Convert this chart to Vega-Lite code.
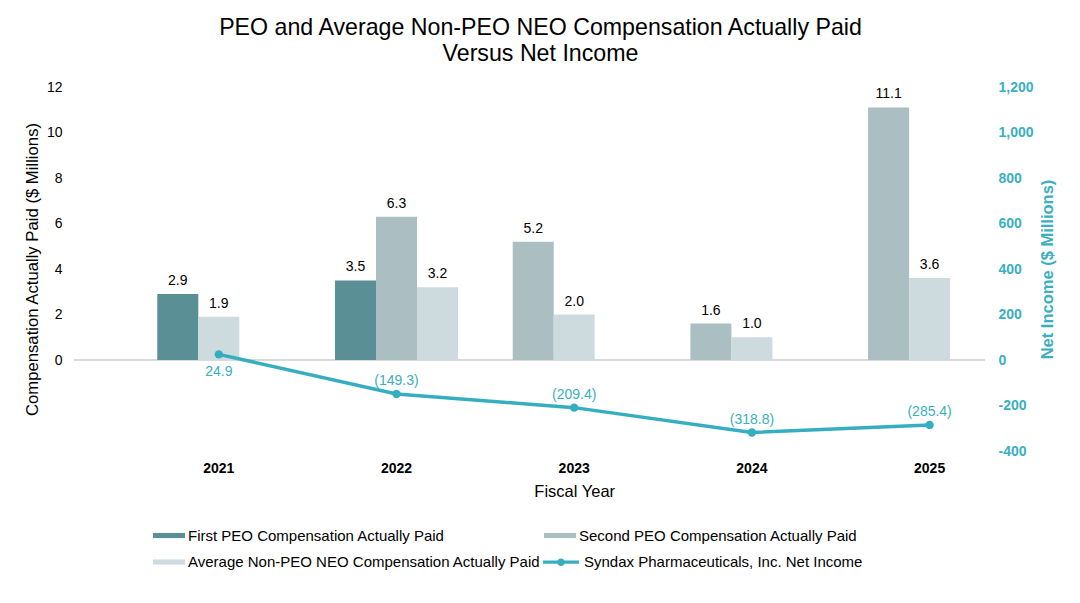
{
  "$schema": "https://vega.github.io/schema/vega-lite/v6.json",
  "width": 911,
  "height": 364,
  "autosize": {"type": "none"},
  "padding": {"left": 74, "top": 87, "right": 95, "bottom": 152},
  "background": "white",
  "title": {
    "text": ["PEO and Average Non-PEO NEO Compensation Actually Paid", "Versus Net Income"],
    "font": "Liberation Sans",
    "fontSize": 23.2,
    "fontWeight": "normal",
    "color": "#000000",
    "anchor": "middle",
    "dx": 11,
    "offset": 14,
    "lineHeight": 26
  },
  "datasets": {
    "comp": [
      {"year": "2021", "series": "First PEO Compensation Actually Paid", "value": 2.9},
      {"year": "2021", "series": "Average Non-PEO NEO Compensation Actually Paid", "value": 1.9},
      {"year": "2022", "series": "First PEO Compensation Actually Paid", "value": 3.5},
      {"year": "2022", "series": "Second PEO Compensation Actually Paid", "value": 6.3},
      {"year": "2022", "series": "Average Non-PEO NEO Compensation Actually Paid", "value": 3.2},
      {"year": "2023", "series": "Second PEO Compensation Actually Paid", "value": 5.2},
      {"year": "2023", "series": "Average Non-PEO NEO Compensation Actually Paid", "value": 2.0},
      {"year": "2024", "series": "Second PEO Compensation Actually Paid", "value": 1.6},
      {"year": "2024", "series": "Average Non-PEO NEO Compensation Actually Paid", "value": 1.0},
      {"year": "2025", "series": "Second PEO Compensation Actually Paid", "value": 11.1},
      {"year": "2025", "series": "Average Non-PEO NEO Compensation Actually Paid", "value": 3.6}
    ],
    "income": [
      {"year": "2021", "ni": 24.9},
      {"year": "2022", "ni": -149.3},
      {"year": "2023", "ni": -209.4},
      {"year": "2024", "ni": -318.8},
      {"year": "2025", "ni": -285.4}
    ]
  },
  "encoding": {
    "x": {
      "field": "year",
      "type": "nominal",
      "scale": {"range": [55.95, 944.45], "paddingInner": 0, "paddingOuter": 0},
      "axis": {
        "title": "Fiscal Year",
        "labelAngle": 0,
        "labelFont": "Liberation Sans",
        "labelFontSize": 14,
        "labelFontWeight": "bold",
        "labelColor": "#000000",
        "labelPadding": 10,
        "titleFont": "Liberation Sans",
        "titleFontSize": 16.5,
        "titleFontWeight": "normal",
        "titleColor": "#000000",
        "titlePadding": 8
      }
    }
  },
  "layer": [
    {
      "data": {"name": "comp"},
      "transform": [
        {"window": [{"op": "row_number", "as": "r"}], "groupby": ["year"]},
        {"calculate": "datum.r - 1", "as": "slot"}
      ],
      "encoding": {
        "xOffset": {
          "field": "slot",
          "type": "ordinal",
          "scale": {"domain": [0, 1, 2], "range": [27.35, 150.35], "paddingInner": 0, "paddingOuter": 0}
        },
        "y": {
          "field": "value",
          "type": "quantitative",
          "scale": {"domain": [-4, 12], "nice": false},
          "axis": {
            "title": "Compensation Actually Paid ($ Millions)",
            "values": [0, 2, 4, 6, 8, 10, 12],
            "labelFont": "Liberation Sans",
            "labelFontSize": 14,
            "labelColor": "#000000",
            "labelPadding": 12,
            "titleFont": "Liberation Sans",
            "titleFontSize": 16.7,
            "titleFontWeight": "normal",
            "titleColor": "#000000",
            "titlePadding": 5
          }
        }
      },
      "layer": [
        {
          "mark": {"type": "rule", "color": "#D9D9D9", "strokeWidth": 1},
          "encoding": {"y": {"datum": 0}, "x": {"value": 0}, "x2": {"value": 911}, "xOffset": null}
        },
        {
          "mark": {"type": "bar", "width": 41},
          "encoding": {
            "color": {
              "field": "series",
              "type": "nominal",
              "scale": {
                "domain": ["First PEO Compensation Actually Paid", "Second PEO Compensation Actually Paid", "Average Non-PEO NEO Compensation Actually Paid"],
                "range": ["#5A8F96", "#ABBEC1", "#CEDBDE"]
              },
              "legend": {
                "title": null,
                "orient": "none",
                "direction": "horizontal",
                "legendX": 79,
                "legendY": 432.5,
                "columns": 2,
                "columnPadding": 3,
                "rowPadding": 2.5,
                "symbolType": "M-1,-0.16H1V0.16H-1Z",
                "symbolSize": 1024,
                "symbolStrokeWidth": 0,
                "labelFont": "Liberation Sans",
                "labelFontSize": 15,
                "labelColor": "#000000",
                "labelLimit": 600,
                "labelOffset": 3
              }
            }
          }
        },
        {
          "mark": {"type": "text", "baseline": "bottom", "dy": -6, "font": "Liberation Sans", "fontSize": 14, "color": "#000000"},
          "encoding": {
            "text": {"field": "value", "type": "quantitative", "format": ".1f"}
          }
        }
      ]
    },
    {
      "data": {"name": "income"},
      "transform": [
        {"calculate": "datum.ni < 0 ? '(' + format(-datum.ni, '.1f') + ')' : format(datum.ni, '.1f')", "as": "lab"}
      ],
      "encoding": {
        "y": {
          "field": "ni",
          "type": "quantitative",
          "scale": {"domain": [-400, 1200], "nice": false},
          "axis": {
            "orient": "right",
            "title": "Net Income ($ Millions)",
            "values": [-400, -200, 0, 200, 400, 600, 800, 1000, 1200],
            "format": ",d",
            "labelExpr": "replace(datum.label, '\u2212', '-')",
            "labelFont": "Liberation Sans",
            "labelFontSize": 14,
            "labelFontWeight": "bold",
            "labelColor": "#3AAFC0",
            "labelPadding": 13,
            "titleFont": "Liberation Sans",
            "titleFontSize": 16.5,
            "titleFontWeight": "bold",
            "titleColor": "#3AAFC0",
            "titleAngle": 270,
            "titlePadding": 22
          }
        }
      },
      "layer": [
        {
          "mark": {"type": "line", "strokeWidth": 3.5},
          "encoding": {
            "stroke": {
              "datum": "Syndax Pharmaceuticals, Inc. Net Income",
              "type": "nominal",
              "scale": {"range": ["#35AEC0"]},
              "legend": {
                "title": null,
                "orient": "none",
                "legendX": 467,
                "legendY": 455.2,
                "symbolType": "M-1,0L1,0M0.12,0A0.12,0.12,0,1,1,-0.12,0A0.12,0.12,0,1,1,0.12,0Z",
                "symbolSize": 1296,
                "symbolStrokeWidth": 3.3,
                "labelFont": "Liberation Sans",
                "labelFontSize": 15,
                "labelColor": "#000000",
                "labelLimit": 600,
                "labelOffset": 3,
                "encode": {"symbols": {"update": {"fill": {"value": "#35AEC0"}, "stroke": {"value": "#35AEC0"}}}}
              }
            }
          }
        },
        {
          "mark": {"type": "point", "filled": true, "size": 70, "color": "#35AEC0", "opacity": 1}
        },
        {
          "transform": [{"filter": "datum.ni >= 0"}],
          "mark": {"type": "text", "baseline": "top", "dy": 11, "font": "Liberation Sans", "fontSize": 14, "color": "#3AAFC0"},
          "encoding": {"text": {"field": "lab", "type": "nominal"}}
        },
        {
          "transform": [{"filter": "datum.ni < 0"}],
          "mark": {"type": "text", "baseline": "bottom", "dy": -6, "font": "Liberation Sans", "fontSize": 14, "color": "#3AAFC0"},
          "encoding": {"text": {"field": "lab", "type": "nominal"}}
        }
      ]
    }
  ],
  "resolve": {"scale": {"y": "independent"}},
  "config": {
    "view": {"stroke": null},
    "axis": {"grid": false, "domain": false, "ticks": false}
  }
}
